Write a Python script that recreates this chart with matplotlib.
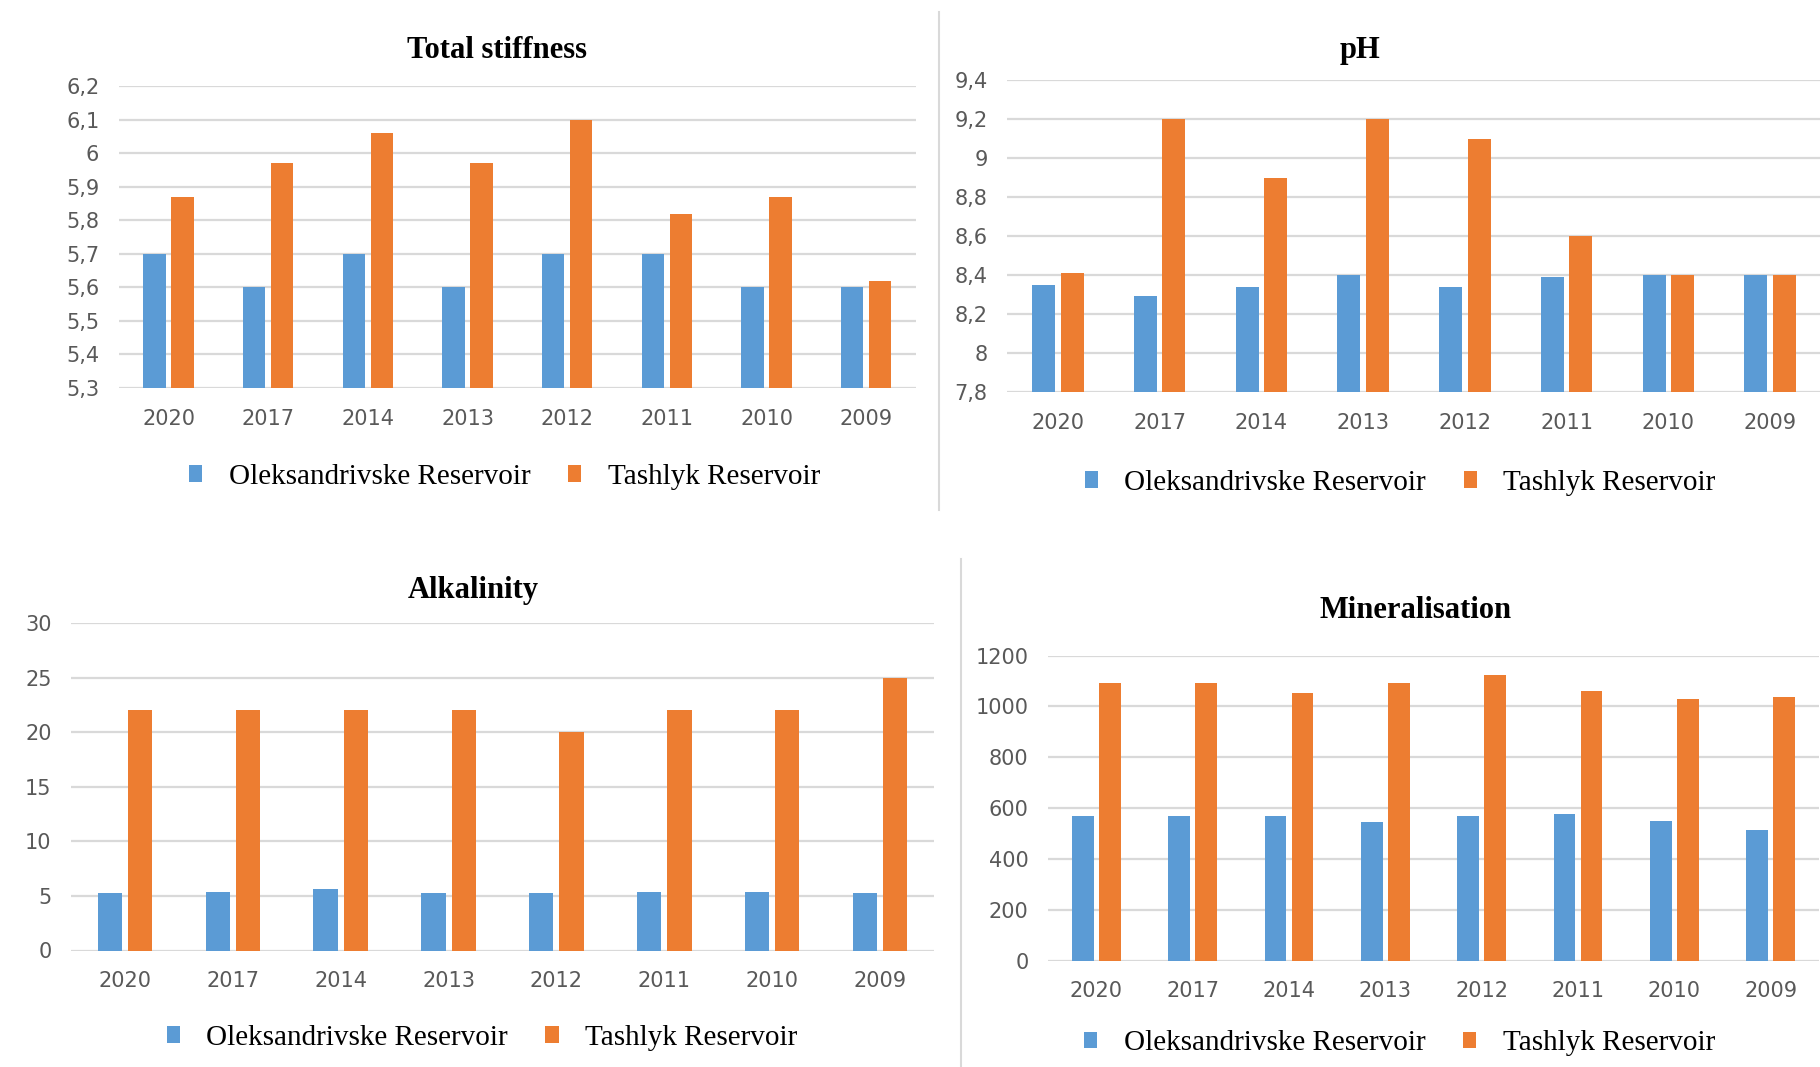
import numpy as np
import matplotlib
matplotlib.use('Agg')
import matplotlib.pyplot as plt
from matplotlib.ticker import FuncFormatter, MultipleLocator

# Water quality of the two reservoirs by year
years = ['2020', '2017', '2014', '2013', '2012', '2011', '2010', '2009']
series_names = ['Oleksandrivske Reservoir', 'Tashlyk Reservoir']

stiff_oleks = [5.7, 5.6, 5.7, 5.6, 5.7, 5.7, 5.6, 5.6]
stiff_tashlyk = [5.87, 5.97, 6.06, 5.97, 6.1, 5.82, 5.87, 5.62]

ph_oleks = [8.35, 8.29, 8.34, 8.4, 8.34, 8.39, 8.4, 8.4]
ph_tashlyk = [8.41, 9.2, 8.9, 9.2, 9.1, 8.6, 8.4, 8.4]

alk_oleks = [5.25, 5.4, 5.6, 5.25, 5.25, 5.4, 5.4, 5.25]
alk_tashlyk = [22, 22, 22, 22, 20, 22, 22, 25]

min_oleks = [567, 567, 567, 545, 567, 575, 551, 512]
min_tashlyk = [1092, 1092, 1052, 1092, 1123, 1060, 1028, 1036]

BLUE = '#5B9BD5'
ORANGE = '#ED7D31'
GRID = '#D9D9D9'
TICK = '#595959'
tick_font = ['Liberation Sans Narrow', 'DejaVu Sans']
serif_font = ['Liberation Serif', 'DejaVu Serif']

W, H = 1820, 1067
fig = plt.figure(figsize=(W / 100, H / 100), dpi=100)


def box(x0, x1, ytop, ybot):
    # pixel box -> figure fraction rect
    return [x0 / W, 1 - ybot / H, (x1 - x0) / W, (ybot - ytop) / H]


def comma_fmt(v, pos):
    return ('%g' % round(v, 3)).replace('.', ',')


def panel(rect, title, a, b, ylim, step, title_xy, leg_xy):
    ax = fig.add_axes(rect)
    x = np.arange(len(years))
    bw = 0.225
    off = 0.14
    ax.bar(x - off, a, bw, bottom=0, color=BLUE, zorder=3, label=series_names[0])
    ax.bar(x + off, b, bw, bottom=0, color=ORANGE, zorder=3, label=series_names[1])
    ax.set_xlim(-0.5, len(years) - 0.5)
    ax.set_ylim(*ylim)
    ax.yaxis.set_major_locator(MultipleLocator(step))
    ax.yaxis.set_major_formatter(FuncFormatter(comma_fmt))
    ax.set_xticks(x)
    ax.set_xticklabels(years)
    ax.grid(axis='y', color=GRID, lw=1.6, zorder=0)
    ax.set_axisbelow(True)
    for s in ax.spines.values():
        s.set_visible(False)
    ax.tick_params(length=0, colors=TICK, labelsize=15)
    ax.tick_params(axis='x', pad=15)
    ax.tick_params(axis='y', pad=14)
    for lab in ax.get_xticklabels() + ax.get_yticklabels():
        lab.set_family(tick_font)
    ax.text(title_xy[0], title_xy[1], title, transform=ax.transAxes,
            ha='center', va='center', fontsize=22, fontweight='bold',
            family=serif_font, color='black')
    ax.legend(loc='center', bbox_to_anchor=leg_xy, ncol=2, frameon=False,
              prop={'family': serif_font, 'size': 21},
              handlelength=0.45, handleheight=0.5, handletextpad=0.9,
              columnspacing=1.3)
    return ax


panel(box(118.7, 916, 86, 388), 'Total stiffness', stiff_oleks, stiff_tashlyk,
      (5.3, 6.2), 0.1, (0.475, 1.119), (0.484, -0.295))
panel(box(1007, 1821, 80, 392), 'pH', ph_oleks, ph_tashlyk,
      (7.8, 9.4), 0.2, (0.434, 1.096), (0.483, -0.292))
panel(box(71, 934, 623, 950.5), 'Alkalinity', alk_oleks, alk_tashlyk,
      (0, 30), 5, (0.466, 1.099), (0.476, -0.267))
panel(box(1048, 1819, 655.5, 960.6), 'Mineralisation', min_oleks, min_tashlyk,
      (0, 1200), 200, (0.477, 1.146), (0.456, -0.271))

# thin separators between the panels
fig.add_artist(plt.Line2D([938.5 / W] * 2, [1 - 12 / H, 1 - 510 / H], color=GRID, lw=1.5))
fig.add_artist(plt.Line2D([961 / W] * 2, [1 - 559 / H, 0], color=GRID, lw=1.5))

fig.savefig('out.png', dpi=100, facecolor='white')
